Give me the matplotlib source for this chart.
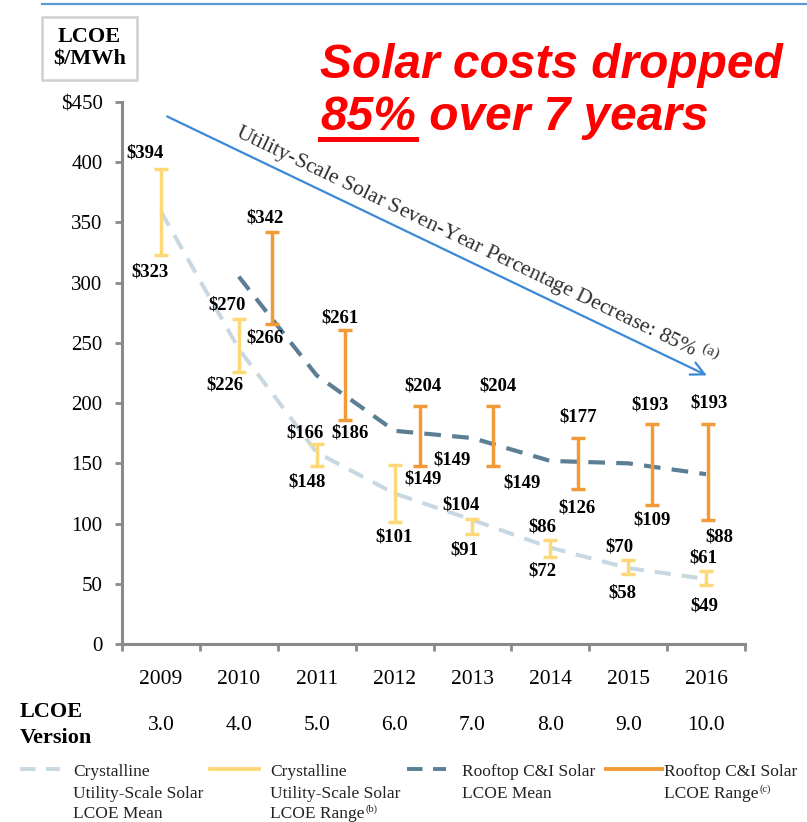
import numpy as np
import matplotlib
matplotlib.use("Agg")
import matplotlib.pyplot as plt
import matplotlib.patches as mpatches
import matplotlib.transforms as mtransforms
from matplotlib.lines import Line2D

plt.rcParams['font.family'] = ['Liberation Serif', 'DejaVu Serif']
plt.rcParams['mathtext.fontset'] = 'custom'
plt.rcParams['mathtext.rm'] = 'Liberation Serif'

# data
years = ['2009', '2010', '2011', '2012', '2013', '2014', '2015', '2016']
versions = ['3.0', '4.0', '5.0', '6.0', '7.0', '8.0', '9.0', '10.0']

utility_low = [323, 226, 148, 101, 91, 72, 58, 49]
utility_high = [394, 270, 166, 149, 104, 86, 70, 61]
utility_mean = [359, 245, 159, 125, 103, 80, 63, 54]

# rooftop starts in 2010; bars as drawn, labels as printed
rooftop_low = [266, 186, 148, 148, 129, 115, 103]
rooftop_high = [342, 261, 198, 198, 171, 183, 183]
rooftop_low_label = [266, 186, 149, 149, 126, 109, 88]
rooftop_high_label = [342, 261, 204, 204, 177, 193, 193]
rooftop_mean = [305, 223, 177, 171, 152, 150, 141]

arrow_start = (0.08, 438)
arrow_end = (7.01, 223)

# layout helpers (pixel offsets of the value labels from the bar ends)
rooftop_shift = [0.425, 0.362, 0.325, 0.262, 0.353, 0.303, 0.022]
ut_top_off = [(-16, 16), (-12, 14), (-12, 11), (57, 5), (-11, 14), (-8, 13), (-9, 13), (-3, 13)]
ut_bot_off = [(-11, -17), (-14, -13), (-10, -16), (-1, -15), (-8, -16), (-8, -14), (-6, -19), (-2, -21)]
rt_top_off = [(-7, 14), (-5, 12), (3, 20), (5, 20), (0, 21), (-2, 19), (1, 21)]
rt_bot_off = [(-7, -14), (5, -13), (3, -13), (29, -17), (-1, -19), (0, -15), (12, -17)]

c_ut_range = '#fdd878'
c_rt_range = '#f39a38'
c_ut_mean = '#c8d8e3'
c_rt_mean = '#5b7e94'
c_axis = '#8a8a8a'

W, H = 807, 822
fig = plt.figure(figsize=(W / 100, H / 100), dpi=100)
ax = fig.add_axes([122 / W, 1 - 644 / H, 623 / W, 542 / H])
ax.set_xlim(-0.5, 7.5)
ax.set_ylim(0, 450)

x_ut = np.arange(len(years))
x_rt = np.arange(1, len(years)) + np.array(rooftop_shift)

# mean lines
ax.plot(x_ut, utility_mean, color=c_ut_mean, lw=2.9, dashes=(4.0, 2.7), zorder=2)
ax.plot(np.arange(1, len(years)), rooftop_mean, color=c_rt_mean, lw=3.0, dashes=(4.0, 2.7),
        zorder=2)

# range bars
ut_low = np.array(utility_low)
ut_high = np.array(utility_high)
ut_mid = (ut_low + ut_high) / 2
ax.errorbar(x_ut, ut_mid, yerr=[ut_mid - ut_low, ut_high - ut_mid], fmt='none',
            ecolor=c_ut_range, elinewidth=2.5, capsize=5, capthick=2.5, zorder=3)
rt_low = np.array(rooftop_low)
rt_high = np.array(rooftop_high)
rt_mid = (rt_low + rt_high) / 2
ax.errorbar(x_rt, rt_mid, yerr=[rt_mid - rt_low, rt_high - rt_mid], fmt='none',
            ecolor=c_rt_range, elinewidth=2.5, capsize=5, capthick=2.5, zorder=3)

# value labels
lab_kw = dict(textcoords='offset pixels', ha='center', va='center', fontsize=13.5,
              fontweight='bold', color='black', zorder=5)
for i in range(len(years)):
    ax.annotate('$' + str(utility_high[i]), (x_ut[i], utility_high[i]), xytext=ut_top_off[i], **lab_kw)
    ax.annotate('$' + str(utility_low[i]), (x_ut[i], utility_low[i]), xytext=ut_bot_off[i], **lab_kw)
for i in range(len(rooftop_low)):
    ax.annotate('$' + str(rooftop_high_label[i]), (x_rt[i], rooftop_high[i]), xytext=rt_top_off[i], **lab_kw)
    ax.annotate('$' + str(rooftop_low_label[i]), (x_rt[i], rooftop_low[i]), xytext=rt_bot_off[i], **lab_kw)

# arrow + its caption, rotated to follow the arrow
ax.annotate('', xy=arrow_end, xytext=arrow_start,
            arrowprops=dict(arrowstyle='->', color='#3b89d6', lw=1.6, mutation_scale=24,
                            shrinkA=0, shrinkB=0))
p0 = ax.transData.transform(arrow_start)
p1 = ax.transData.transform(arrow_end)
ang = np.degrees(np.arctan2(p1[1] - p0[1], p1[0] - p0[0]))
t = 0.56
mid = (arrow_start[0] + t * (arrow_end[0] - arrow_start[0]),
       arrow_start[1] + t * (arrow_end[1] - arrow_start[1]))
nrm = np.radians(ang + 90)
ax.annotate('Utility-Scale Solar Seven-Year Percentage Decrease: 85% $^{\\mathrm{(a)}}$', mid,
            xytext=(11 * np.cos(nrm), 11 * np.sin(nrm)), textcoords='offset pixels',
            rotation=ang, rotation_mode='anchor', ha='center', va='baseline',
            fontsize=15.7, color='#2e2e2e')

# axes styling
for s in ['top', 'right']:
    ax.spines[s].set_visible(False)
for s in ['left', 'bottom']:
    ax.spines[s].set_color(c_axis)
    ax.spines[s].set_linewidth(2.2)
yt = list(range(0, 451, 50))
ax.set_yticks(yt)
ax.set_yticklabels([str(v) for v in yt[:-1]] + ['$450'], fontsize=15)
ax.tick_params(axis='y', direction='out', length=5, width=2, color=c_axis, pad=9)
ax.set_xticks(x_ut)
ax.set_xticklabels(years, fontsize=15.5)
ax.set_xticks(np.arange(-0.5, 7.6, 1), minor=True)
ax.tick_params(axis='x', which='major', length=0, pad=19)
ax.tick_params(axis='x', which='minor', direction='out', length=5, width=2, color=c_axis)

# LCOE version row
bt = mtransforms.blended_transform_factory(ax.transData, fig.transFigure)
for i, v in enumerate(versions):
    ax.text(x_ut[i], 1 - 725 / H, v, transform=bt, ha='center', va='center', fontsize=15.5,
            clip_on=False)
fig.text(20 / W, 1 - 725 / H, 'LCOE\nVersion', ha='left', va='center', fontsize=16,
         fontweight='bold', linespacing=1.35)

# top decorations
fig.add_artist(Line2D([42 / W, 1], [1 - 4 / H, 1 - 4 / H], color='#5b9bd5', lw=1.6))
fig.add_artist(mpatches.Rectangle((42 / W, 1 - 80 / H), 95 / W, 63 / H, transform=fig.transFigure,
                                  fill=False, edgecolor='#cfcfcf', lw=1.8))
fig.text(89.5 / W, 1 - 48.5 / H, 'LCOE\n$/MWh', ha='center', va='center', fontsize=16,
         fontweight='bold', linespacing=1.15)

red_kw = dict(color='#ff0000', fontsize=34.5, fontweight='bold', style='italic',
              family='Liberation Sans', va='baseline', ha='left')
fig.text(320 / W, 1 - 78 / H, 'Solar costs dropped', **red_kw)
t85 = fig.text(320 / W, 1 - 130 / H, '85%', **red_kw)
fig.canvas.draw()
bb = t85.get_window_extent()
fig.text(bb.x1 / W, 1 - 130 / H, ' over 7 years', **red_kw)
fig.add_artist(Line2D([bb.x0 / W, bb.x1 / W], [1 - 139.5 / H] * 2, color='#ff0000', lw=3.6))

# legend, drawn by hand so the handle sits on the first text row
leg_entries = [
    (20, 60, c_ut_mean, (4.0, 2.7), 73, ['Crystalline', 'Utility-Scale Solar', 'LCOE Mean'], None),
    (210, 259, c_ut_range, None, 270, ['Crystalline', 'Utility-Scale Solar', 'LCOE Range'], '(b)'),
    (407, 446, c_rt_mean, (4.0, 2.7), 462, ['Rooftop C&I Solar', 'LCOE Mean'], None),
    (606, 662, c_rt_range, None, 664, ['Rooftop C&I Solar', 'LCOE Range'], '(c)'),
]
row_base = [776, 798, 818]
for x0, x1, col, dsh, tx, lines, sup in leg_entries:
    ln = Line2D([x0 / W, x1 / W], [1 - 769 / H] * 2, color=col, lw=2.8)
    if dsh is not None:
        ln.set_dashes(dsh)
    fig.add_artist(ln)
    for k, s in enumerate(lines):
        last = fig.text(tx / W, 1 - row_base[k] / H, s, ha='left', va='baseline', fontsize=12.5,
                        color='#222222')
    if sup:
        fig.canvas.draw()
        lb = last.get_window_extent()
        fig.text((lb.x1 + 1) / W, 1 - (row_base[len(lines) - 1] - 6) / H, sup, fontsize=7.5,
                 color='#222222', ha='left', va='baseline')

fig.savefig('out.png', dpi=100)
